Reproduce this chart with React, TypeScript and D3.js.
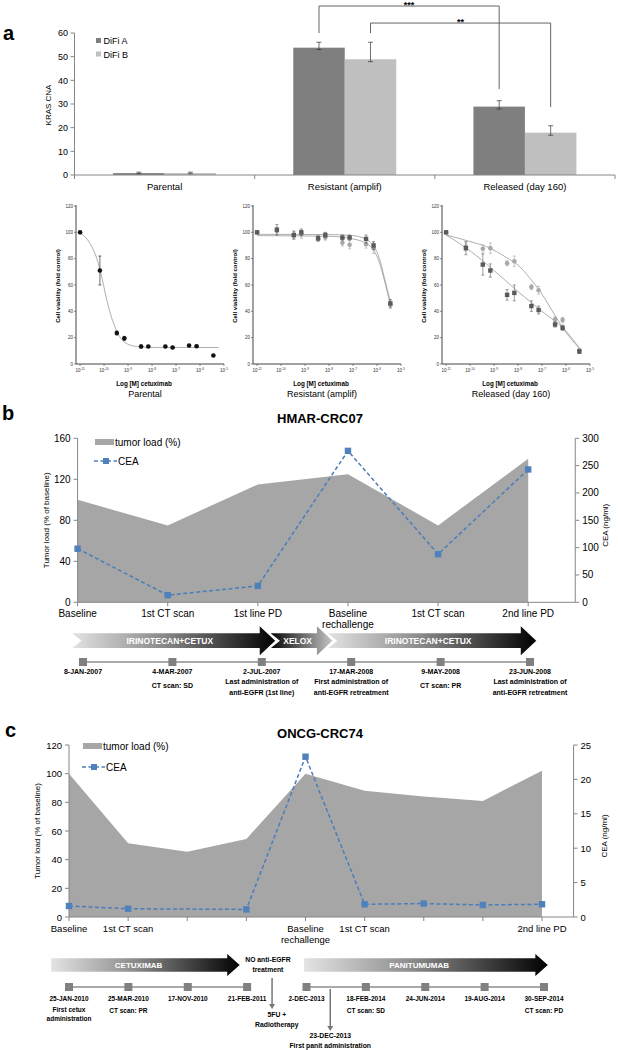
import * as d3 from "d3";
import React from "react";

const FONT = "'Liberation Sans', Arial, sans-serif";

// ---- panel a : KRAS CNA bars
const barCats = ["Parental", "Resistant (amplif)", "Released (day 160)"];
const difiA = [0.8, 53.8, 28.9];
const difiB = [0.8, 48.9, 17.9];
const difiAErrUp = [0.4, 2.3, 2.5];
const difiAErrDown = [0.3, 0.8, 1.0];
const difiBErrUp = [0.4, 7.2, 2.9];
const difiBErrDown = [0.3, 1.0, 1.1];
const cnaTicks = [0, 10, 20, 30, 40, 50, 60];
const sigBrackets = [
  { from: 1, to: 2, series: 0, top: 71.4, leftEnd: 60, rightEnd: 36.3, label: "***" },
  { from: 1, to: 2, series: 1, top: 64.2, leftEnd: 60, rightEnd: 28.7, label: "**" },
];

// ---- panel a : dose response
const doses = [1e-11, 6.7e-11, 3.4e-10, 7e-10, 3.5e-9, 7e-9, 3.6e-8, 7.2e-8, 3.5e-7, 7.2e-7, 3.6e-6];
const doseTickExp = [-11, -10, -9, -8, -7, -6, -5];
const viabTicks = [0, 20, 40, 60, 80, 100, 120];

const parental = [100, 71, 23.5, 19.5, 13.3, 13.3, 13.3, 12.5, 14, 13.5, 6.5];
const parentalErr = [0, 11, 1.5, 1.5, 1.2, 0.8, 0.8, 0.8, 0.8, 0.8, 0];
const parentalFit = [[1e-11, 99.5], [2.5e-11, 92], [5e-11, 80], [8e-11, 66], [1.25e-10, 50], [2e-10, 36], [3.2e-10, 26], [5e-10, 19.5], [1e-9, 15], [2.5e-9, 13.2], [1e-8, 12.6], [6e-6, 12.5]];

const resDark = [100, 102, 98, 100, 95.5, 98, 96, 96, 95, 90, 46];
const resDarkErr = [0, 4, 3, 2.5, 2, 2, 2, 2, 3, 3, 3];
const resLight = [100, 101, 97.5, 98.5, 95, 96, 92, 90.5, 91, 88, 45];
const resLightErr = [0, 3, 3, 3, 2, 2, 2.5, 3, 3, 4, 3];
const resDarkFit = [[1e-11, 98.5], [1e-8, 98.3], [1e-7, 97.5], [3.2e-7, 95], [6.3e-7, 91], [1.26e-6, 80], [2e-6, 66], [3.6e-6, 47]];
const resLightFit = [[1e-11, 97.5], [1e-8, 97], [1e-7, 95], [3.2e-7, 92], [6.3e-7, 88], [1.26e-6, 77], [2e-6, 64], [3.6e-6, 45]];

const relDark = [100, 88, 75.5, 71, 52.5, 54, 44, 41, 30, 27.5, 9.5];
const relDarkErr = [0, 5, 8, 5, 4, 6, 4, 3, 2, 2, 1.5];
const relLight = [100, 89, 87.5, 88, 76.5, 78, 58.5, 56, 34, 33.5, 10.5];
const relLightErr = [0, 3, 3, 4, 2, 4, 2, 3, 2, 2, 1.5];
const relDarkFit = [[1e-11, 98], [1e-10, 86], [1e-9, 71], [1e-8, 55], [1e-7, 40], [1e-6, 25], [3.6e-6, 12]];
const relLightFit = [[1e-11, 98], [1e-10, 93], [5e-10, 89], [3.2e-9, 81], [1e-8, 75], [3.2e-8, 65], [1e-7, 53], [3.2e-7, 38], [1e-6, 24], [3.6e-6, 12]];

// ---- panel b : HMAR-CRC07
const bLabels = [["Baseline"], ["1st CT scan"], ["1st line PD"], ["Baseline", "rechallenge"], ["1st CT scan"], ["2nd line PD"]];
const bTumor = [100, 75, 115, 125, 75, 140];
const bCea = [98, 13, 30, 277, 88, 243];
const bLeftTicks = [0, 40, 80, 120, 160];
const bRightTicks = [0, 50, 100, 150, 200, 250, 300];
const bDates = ["8-JAN-2007", "4-MAR-2007", "2-JUL-2007", "17-MAR-2008", "9-MAY-2008", "23-JUN-2008"];
const bNotes = [[], ["CT scan: SD"], ["Last administration of", "anti-EGFR (1st line)"], ["First administration of", "anti-EGFR retreatment"], ["CT scan: PR"], ["Last administration of", "anti-EGFR retreatment"]];
const bPhases = [
  { name: "IRINOTECAN+CETUX", start: -0.14, end: 2.16, dark: "right", notch: true },
  { name: "XELOX", start: 2.08, end: 2.8, dark: "left", notch: true },
  { name: "IRINOTECAN+CETUX", start: 2.72, end: 5.08, dark: "right", notch: true },
];

// ---- panel c : ONCG-CRC74
const cLabels = [["Baseline"], ["1st CT scan"], [""], [""], ["Baseline", "rechallenge"], ["1st CT scan"], [""], [""], ["2nd line PD"]];
const cTumor = [100, 51.5, 45.5, 54.5, 100, 88, 84, 81, 102];
const cCea = [1.6, 1.2, null, 1.1, 23.3, 1.85, 1.95, 1.75, 1.85];
const cLeftTicks = [0, 20, 40, 60, 80, 100, 120];
const cRightTicks = [0, 5, 10, 15, 20, 25];
const cDates = ["25-JAN-2010", "25-MAR-2010", "17-NOV-2010", "21-FEB-2011", "2-DEC-2013", "18-FEB-2014", "24-JUN-2014", "19-AUG-2014", "30-SEP-2014"];
const cNotes = [["First cetux", "administration"], ["CT scan: PR"], [], [], [], ["CT scan: SD"], [], [], ["CT scan: PD"]];
const cPhases = [
  { name: "CETUXIMAB", start: -0.31, end: 2.89, dark: "right", notch: false },
  { name: "PANITUMUMAB", start: 3.95, end: 8.08, dark: "right", notch: false },
];

const AXIS = "#868686";

function BarPanel() {
  const x = d3.scaleBand().domain(barCats).range([74.5, 615]);
  const y = d3.scaleLinear().domain([0, 60]).range([175, 33]);
  const bw = x.bandwidth() / 3.5;
  const ax = (i) => (x(barCats[i]) as number) + bw * 0.75;
  const series = [
    { vals: difiA, up: difiAErrUp, dn: difiAErrDown, color: "#7f7f7f", name: "DiFi A" },
    { vals: difiB, up: difiBErrUp, dn: difiBErrDown, color: "#bfbfbf", name: "DiFi B" },
  ];
  const cx = (i, s) => ax(i) + bw * s + bw / 2;
  return (
    <g>
      <text x={3} y={40} fontSize={20} fontWeight="bold">a</text>
      {series.map((s, si) =>
        s.vals.map((v, i) => (
          <rect key={si + "-" + i} x={ax(i) + bw * si} y={y(v)} width={bw} height={175 - y(v)} fill={s.color} />
        ))
      )}
      {series.map((s, si) =>
        s.vals.map((v, i) => (
          <g key={"e" + si + i} stroke="#333" strokeWidth={0.7}>
            <line x1={cx(i, si)} x2={cx(i, si)} y1={y(v - s.dn[i])} y2={y(v + s.up[i])} />
            <line x1={cx(i, si) - 2.5} x2={cx(i, si) + 2.5} y1={y(v + s.up[i])} y2={y(v + s.up[i])} />
            <line x1={cx(i, si) - 2.5} x2={cx(i, si) + 2.5} y1={y(v - s.dn[i])} y2={y(v - s.dn[i])} />
          </g>
        ))
      )}
      <line x1={74.5} x2={74.5} y1={33} y2={175} stroke={AXIS} />
      <line x1={74.5} x2={615} y1={175} y2={175} stroke={AXIS} />
      {cnaTicks.map((t) => (
        <g key={t}>
          <line x1={70.5} x2={74.5} y1={y(t)} y2={y(t)} stroke={AXIS} />
          <text x={68} y={y(t) + 3.2} fontSize={9} textAnchor="end">{t}</text>
        </g>
      ))}
      {barCats.map((c) => (
        <g key={c}>
          <line x1={x(c)} x2={x(c)} y1={175} y2={179} stroke={AXIS} />
          <text x={(x(c) as number) + x.bandwidth() / 2} y={190} fontSize={9.5} textAnchor="middle">{c}</text>
        </g>
      ))}
      <line x1={615} x2={615} y1={175} y2={179} stroke={AXIS} />
      <text transform="translate(51,105) rotate(-90)" fontSize={8} textAnchor="middle">KRAS CNA</text>
      {series.map((s, si) => (
        <g key={s.name}>
          <rect x={96} y={38 + si * 13.5} width={5} height={5} fill={s.color} />
          <text x={103.5} y={44 + si * 13.5} fontSize={9}>{s.name}</text>
        </g>
      ))}
      {sigBrackets.map((b) => {
        const x1 = cx(b.from, b.series);
        const x2 = cx(b.to, b.series);
        return (
          <g key={b.label}>
            <path d={`M${x1},${y(b.leftEnd)}V${y(b.top)}H${x2}V${y(b.rightEnd)}`} fill="none" stroke="#555" strokeWidth={0.9} />
            <text x={(x1 + x2) / 2} y={y(b.top) + 1.5} fontSize={9} fontWeight="bold" textAnchor="middle">{b.label}</text>
          </g>
        );
      })}
    </g>
  );
}

function DosePlot({ ax, series, fits, label }) {
  const x = d3.scaleLog().domain([Math.pow(10, -11.17), 1e-5]).range([ax, ax + 148]);
  const y = d3.scaleLinear().domain([0, 120]).range([364, 206]);
  const line = d3.line().x((d) => x(d[0])).y((d) => y(d[1])).curve(d3.curveMonotoneX);
  const mid = ax + 74;
  return (
    <g>
      {fits.map((f, i) => (
        <path key={i} d={line(f) as string} fill="none" stroke="#9a9a9a" strokeWidth={0.8} />
      ))}
      {series.map((s, si) =>
        s.vals.map((v, i) => {
          const px = x(doses[i]);
          const py = y(v);
          return (
            <g key={si + "-" + i}>
              {s.err[i] > 0 && (
                <g stroke={s.color} strokeWidth={0.6}>
                  <line x1={px} x2={px} y1={y(v - s.err[i])} y2={y(v + s.err[i])} />
                  <line x1={px - 1.5} x2={px + 1.5} y1={y(v + s.err[i])} y2={y(v + s.err[i])} />
                  <line x1={px - 1.5} x2={px + 1.5} y1={y(v - s.err[i])} y2={y(v - s.err[i])} />
                </g>
              )}
              {s.shape === "square" ? (
                <rect x={px - 2.2} y={py - 2.2} width={4.4} height={4.4} fill={s.color} />
              ) : (
                <circle cx={px} cy={py} r={2.3} fill={s.color} />
              )}
            </g>
          );
        })
      )}
      <line x1={ax} x2={ax} y1={205} y2={364} stroke="#444" strokeWidth={1} />
      <line x1={ax} x2={ax + 148} y1={364} y2={364} stroke="#444" strokeWidth={1} />
      {viabTicks.map((t) => (
        <g key={t}>
          <line x1={ax - 2} x2={ax} y1={y(t)} y2={y(t)} stroke="#444" strokeWidth={0.6} />
          <text x={ax - 3} y={y(t) + 1.6} fontSize={4.5} textAnchor="end" fill="#333">{t}</text>
        </g>
      ))}
      {doseTickExp.map((e) => (
        <g key={e}>
          <line x1={x(Math.pow(10, e))} x2={x(Math.pow(10, e))} y1={364} y2={366} stroke="#444" strokeWidth={0.6} />
          <text x={x(Math.pow(10, e))} y={372} fontSize={4.5} textAnchor="middle" fill="#333">
            10<tspan fontSize={3.2} dy={-1.8}>{e}</tspan>
          </text>
        </g>
      ))}
      <text transform={`translate(${ax - 16},286) rotate(-90)`} fontSize={6} fontWeight="bold" textAnchor="middle">Cell viability  (fold control)</text>
      <text x={mid - 6} y={386} fontSize={6.3} fontWeight="bold" textAnchor="middle">Log [M] cetuximab</text>
      <text x={mid - 5} y={397} fontSize={9} textAnchor="middle">{label}</text>
    </g>
  );
}

function TrendChart(p) {
  const n = p.labels.length;
  const x = d3.scaleLinear().domain([0, n - 1]).range([p.x0, p.x1]);
  const rightX = p.x1 + (p.x1 - p.x0) / (n - 1) / 2 + 2;
  const yL = d3.scaleLinear().domain([0, p.leftMax]).range([p.bottom, p.top]);
  const yR = d3.scaleLinear().domain([0, p.rightMax]).range([p.bottom, p.top]);
  const area = d3.area().x((d, i) => x(i)).y0(p.bottom).y1((d) => yL(d));
  const pts = p.cea.map((v, i) => ({ i, v })).filter((d) => d.v != null);
  const line = d3.line().x((d) => x(d.i)).y((d) => yR(d.v));
  return (
    <g>
      <path d={area(p.tumor) as string} fill="#a6a6a6" />
      <line x1={p.x0} x2={p.x0} y1={p.top} y2={p.bottom} stroke={AXIS} />
      <line x1={rightX} x2={rightX} y1={p.top} y2={p.bottom} stroke={AXIS} />
      <line x1={p.x0} x2={rightX} y1={p.bottom} y2={p.bottom} stroke={AXIS} />
      {p.leftTicks.map((t) => (
        <g key={"l" + t}>
          <line x1={p.x0 - 4} x2={p.x0} y1={yL(t)} y2={yL(t)} stroke={AXIS} />
          <text x={p.x0 - 7} y={yL(t) + 3.5} fontSize={p.tickSize} textAnchor="end">{t}</text>
        </g>
      ))}
      {p.rightTicks.map((t) => (
        <g key={"r" + t}>
          <line x1={rightX} x2={rightX + 4} y1={yR(t)} y2={yR(t)} stroke={AXIS} />
          <text x={rightX + 7} y={yR(t) + 3.5} fontSize={p.tickSize}>{t}</text>
        </g>
      ))}
      {p.labels.map((l, i) => (
        <g key={"x" + i}>
          <line x1={x(i)} x2={x(i)} y1={p.bottom} y2={p.bottom + 4} stroke={AXIS} />
          {l.map((s, k) => (
            <text key={k} x={x(i)} y={p.bottom + p.labelDy + k * 11} fontSize={p.labelSize} textAnchor="middle">{s}</text>
          ))}
        </g>
      ))}
      <path d={line(pts) as string} fill="none" stroke="#4a7ebb" strokeWidth={1.5} strokeDasharray="4,2.5" />
      {pts.map((d) => (
        <rect key={d.i} x={x(d.i) - 3.2} y={yR(d.v) - 3.2} width={6.4} height={6.4} fill="#4f81bd" />
      ))}
      <rect x={p.legendX} y={p.legendY - 3} width={19} height={6} fill="#a6a6a6" />
      <text x={p.legendX + 20} y={p.legendY + 3.5} fontSize={10}>tumor load (%)</text>
      <line x1={p.legendX - 1} x2={p.legendX + 22} y1={p.legendY2} y2={p.legendY2} stroke="#4a7ebb" strokeWidth={1.5} strokeDasharray="4,2.5" />
      <rect x={p.legendX + 8} y={p.legendY2 - 3} width={6} height={6} fill="#4f81bd" />
      <text x={p.legendX + 23} y={p.legendY2 + 3.5} fontSize={10}>CEA</text>
      <text transform={`translate(${p.x0 - 29},${(p.top + p.bottom) / 2}) rotate(-90)`} fontSize={8} textAnchor="middle">Tumor load (% of baseline)</text>
      <text transform={`translate(${rightX + 33},${(p.top + p.bottom) / 2 + 5}) rotate(-90)`} fontSize={8} textAnchor="middle">CEA (ng/ml)</text>
    </g>
  );
}

function arrowPath(xs, xe, cy, bh, hh, hl, notch) {
  return `M${xs},${cy - bh}L${xe - hl},${cy - bh}L${xe - hl},${cy - hh}L${xe},${cy}L${xe - hl},${cy + hh}L${xe - hl},${cy + bh}L${xs},${cy + bh}L${xs + notch},${cy}Z`;
}

function Timeline(p) {
  const n = p.dates.length;
  const x = d3.scaleLinear().domain([0, n - 1]).range([p.x0, p.x1]);
  return (
    <g>
      <defs>
        <linearGradient id={p.id + "R"} x1="0" x2="1" y1="0" y2="0">
          <stop offset="0" stopColor="#e4e4e4" />
          <stop offset="0.45" stopColor="#8a8a8a" />
          <stop offset="1" stopColor="#000" />
        </linearGradient>
        <linearGradient id={p.id + "L"} x1="0" x2="1" y1="0" y2="0">
          <stop offset="0" stopColor="#000" />
          <stop offset="1" stopColor="#c8c8c8" />
        </linearGradient>
      </defs>
      {p.phases.map((ph, i) => {
        const xs = x(ph.start);
        const xe = x(ph.end);
        return (
          <g key={i}>
            <path d={arrowPath(xs, xe, p.arrowY, p.bodyH, p.headH, p.headL, ph.notch ? 10 : 0)} fill={`url(#${p.id}${ph.dark === "right" ? "R" : "L"})`} stroke="#fff" strokeWidth={1.2} />
            <text x={(xs + xe - p.headL) / 2 + (ph.notch ? 5 : 0)} y={p.arrowY + 3} fontSize={p.arrowFont} fontWeight="bold" fill="#fff" textAnchor="middle">{ph.name}</text>
          </g>
        );
      })}
      {p.segments.map((s, i) => (
        <line key={i} x1={x(s[0])} x2={x(s[1])} y1={p.lineY} y2={p.lineY} stroke="#8c8c8c" strokeWidth={1.3} />
      ))}
      {p.dates.map((d, i) => (
        <g key={d}>
          <rect x={x(i) - 4} y={p.lineY - 4} width={8} height={8} fill="#808080" />
          <text x={x(i)} y={p.lineY + p.dateDy} fontSize={p.font} fontWeight="bold" textAnchor="middle">{d}</text>
          {p.notes[i].map((t, k) => (
            <text key={k} x={x(i)} y={p.lineY + p.dateDy + (p.notes[i].length === 1 ? p.singleDy : p.noteDy + k * p.noteGap)} fontSize={p.font} fontWeight="bold" textAnchor="middle">{t}</text>
          ))}
        </g>
      ))}
      {p.extra && p.extra(x)}
    </g>
  );
}

function DownArrow({ x, y1, y2 }) {
  return (
    <g>
      <line x1={x} x2={x} y1={y1} y2={y2 - 4} stroke="#777" strokeWidth={1.5} />
      <path d={`M${x - 3},${y2 - 5}L${x + 3},${y2 - 5}L${x},${y2}Z`} fill="#777" />
    </g>
  );
}

export default function App() {
  return (
    <div>
      <svg width={618} height={1050} style={{ position: "absolute", left: 0, top: 0, background: "#fff" }} fontFamily={FONT}>
        <BarPanel />
        <DosePlot ax={76} label="Parental" series={[{ vals: parental, err: parentalErr, color: "#111", shape: "circle" }]} fits={[parentalFit]} />
        <DosePlot ax={253} label="Resistant (amplif)" series={[{ vals: resLight, err: resLightErr, color: "#a8a8a8", shape: "circle" }, { vals: resDark, err: resDarkErr, color: "#5a5a5a", shape: "square" }]} fits={[resDarkFit, resLightFit]} />
        <DosePlot ax={442} label="Released (day 160)" series={[{ vals: relLight, err: relLightErr, color: "#a8a8a8", shape: "circle" }, { vals: relDark, err: relDarkErr, color: "#5a5a5a", shape: "square" }]} fits={[relDarkFit, relLightFit]} />

        <text x={2} y={420} fontSize={20} fontWeight="bold">b</text>
        <text x={320} y={423} fontSize={13} fontWeight="bold" textAnchor="middle">HMAR-CRC07</text>
        <TrendChart labels={bLabels} tumor={bTumor} cea={bCea} x0={77.6} x1={528.2} top={438.3} bottom={602.3}
          leftMax={160} rightMax={300} leftTicks={bLeftTicks} rightTicks={bRightTicks} tickSize={10}
          labelSize={10} labelDy={15} legendX={95} legendY={442} legendY2={461} />
        <Timeline id="tb" dates={bDates} notes={bNotes} phases={bPhases} x0={83} x1={530} lineY={662}
          segments={[[0, 5]]} arrowY={640.7} bodyH={8} headH={16} headL={17} arrowFont={8.5}
          font={7} dateDy={12} noteDy={10} noteGap={10.5} singleDy={14} />

        <text x={5} y={737} fontSize={20} fontWeight="bold">c</text>
        <text x={320} y={738} fontSize={13} fontWeight="bold" textAnchor="middle">ONCG-CRC74</text>
        <TrendChart labels={cLabels} tumor={cTumor} cea={cCea} x0={69} x1={542} top={745} bottom={917}
          leftMax={120} rightMax={25} leftTicks={cLeftTicks} rightTicks={cRightTicks} tickSize={9.5}
          labelSize={9.5} labelDy={15} legendX={83} legendY={746} legendY2={767} />
        <Timeline id="tc" dates={cDates} notes={cNotes} phases={cPhases} x0={69} x1={544} lineY={987}
          segments={[[0, 3], [4, 8]]} arrowY={965} bodyH={7.3} headH={12.5} headL={14} arrowFont={8}
          font={6.5} dateDy={14} noteDy={11} noteGap={8.5} singleDy={12}
          extra={(x) => (
            <g fontSize={6.8} fontWeight="bold" textAnchor="middle">
              <text x={x(3.35)} y={962}>NO anti-EGFR</text>
              <text x={x(3.35)} y={972}>treatment</text>
              <DownArrow x={x(3.42)} y1={978} y2={1009} />
              <text x={x(3.5)} y={1017}>5FU +</text>
              <text x={x(3.5)} y={1027}>Radiotherapy</text>
              <DownArrow x={x(4.4)} y1={989} y2={1031} />
              <text x={x(4.4)} y={1038}>23-DEC-2013</text>
              <text x={x(4.4)} y={1048}>First panit administration</text>
            </g>
          )} />
      </svg>
    </div>
  );
}
